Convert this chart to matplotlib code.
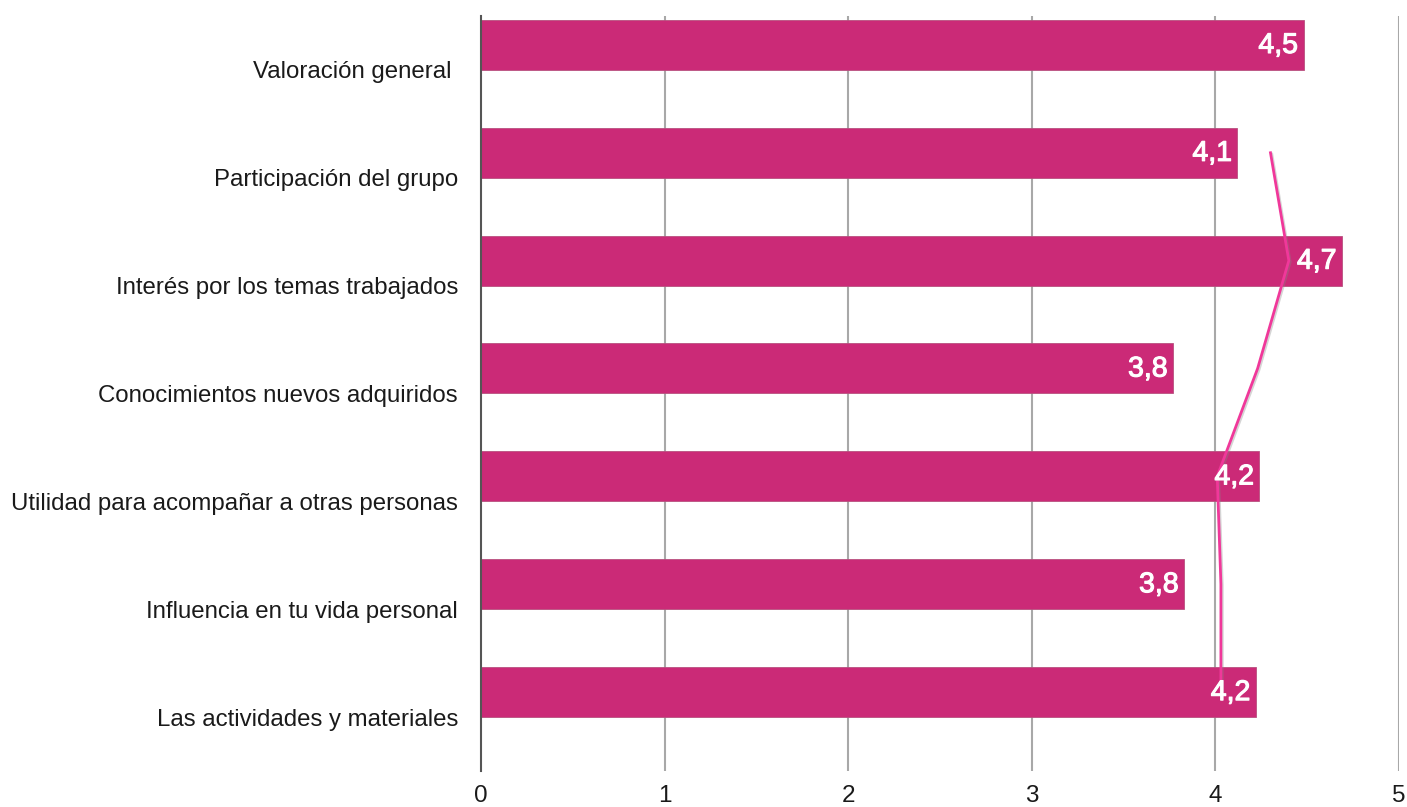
import matplotlib
matplotlib.use("Agg")
import matplotlib.pyplot as plt
import matplotlib.patheffects as pe

categories = [
    "Valoración general ",
    "Participación del grupo",
    "Interés por los temas trabajados",
    "Conocimientos nuevos adquiridos",
    "Utilidad para acompañar a otras personas",
    "Influencia en tu vida personal",
    "Las actividades y materiales",
]
values = [4.48, 4.12, 4.69, 3.77, 4.24, 3.83, 4.22]
value_labels = ["4,5", "4,1", "4,7", "3,8", "4,2", "3,8", "4,2"]
# moving-average trendline (period 2)
trend = [4.30, 4.40, 4.23, 4.01, 4.03, 4.03]
xticks = [0, 1, 2, 3, 4, 5]

plt.rcParams['font.family'] = ['Liberation Sans', 'DejaVu Sans']

fig = plt.figure(figsize=(14.07, 8.07), dpi=100)
ax = fig.add_axes([481/1407, 1-771/807, (1399-481)/1407, (771-16)/807])

bar_color = "#CB2A77"
off = 0.232
h = 0.464
ypos = [i - off for i in range(len(categories))]

ax.barh(ypos, values, height=h, color=bar_color, edgecolor="#B8507F", linewidth=0.6, zorder=3)

for y, v, lab in zip(ypos, values, value_labels):
    ax.text(v - 0.03, y + 0.01, lab, ha="right", va="center", color="white",
            fontsize=20.5, zorder=6,
            path_effects=[pe.withStroke(linewidth=0.8, foreground="white")])

ty = ypos[1:]
ax.plot(trend, ty, color="#F0389A", lw=2.0, zorder=5,
        path_effects=[pe.SimpleLineShadow(offset=(1.0, -1.0), shadow_color="#888888", alpha=0.35),
                      pe.Normal()])

ax.set_xlim(0, 5)
ax.set_ylim(len(categories) - 0.5, -0.5)
ax.set_xticks(xticks)
ax.set_xticklabels([str(t) for t in xticks])
ax.set_yticks(range(len(categories)))
ax.set_yticklabels(categories)
ax.tick_params(axis="y", length=0, pad=16.5, labelsize=17.3, colors="#1a1a1a")
ax.tick_params(axis="x", length=0, pad=10, labelsize=17.5, colors="#1a1a1a")

for x in xticks[1:]:
    ax.axvline(x, color="#A8A8A8", lw=1.5, zorder=1)

for s in ["top", "right", "bottom"]:
    ax.spines[s].set_visible(False)
ax.spines["left"].set_color("#555555")
ax.spines["left"].set_linewidth(1.5)
ax.spines["left"].set_zorder(4)

fig.savefig("out.png", dpi=100, facecolor="white")
